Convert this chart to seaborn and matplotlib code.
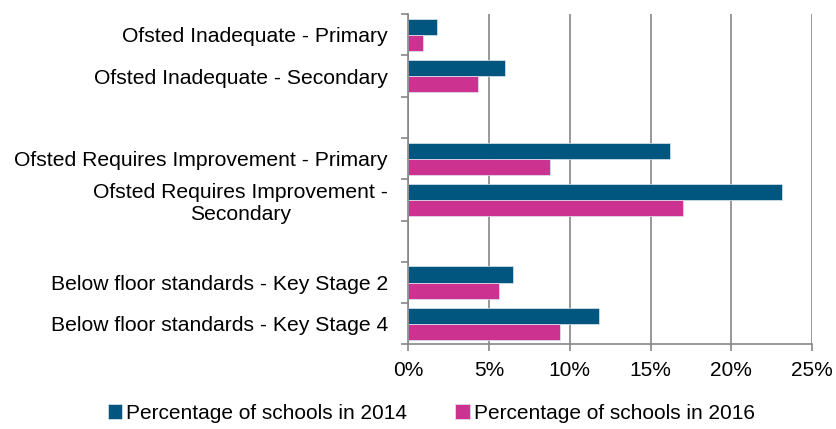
import pandas as pd
import matplotlib
matplotlib.use("Agg")
import matplotlib.pyplot as plt
from matplotlib.ticker import MultipleLocator, FixedLocator
import seaborn as sns

# chart data (blank entries are the spacer slots between groups)
categories = ["Ofsted Inadequate - Primary", "Ofsted Inadequate - Secondary", "",
              "Ofsted Requires Improvement - Primary",
              "Ofsted Requires Improvement -\nSecondary", " ",
              "Below floor standards - Key Stage 2", "Below floor standards - Key Stage 4"]
pct_2014 = [1.8, 6.0, None, 16.2, 23.1, None, 6.5, 11.8]
pct_2016 = [0.9, 4.3, None, 8.8, 17.0, None, 5.6, 9.4]
series = ["Percentage of schools in 2014", "Percentage of schools in 2016"]
colors = ["#00567F", "#CC3391"]

rows = []
for cat, a, b in zip(categories, pct_2014, pct_2016):
    if a is not None:
        rows.append((cat, series[0], a))
        rows.append((cat, series[1], b))
df = pd.DataFrame(rows, columns=["Category", "Series", "Value"])

sns.set_style("white")
plt.rcParams["font.family"] = ["Liberation Sans", "DejaVu Sans"]
plt.rcParams["text.color"] = "black"
plt.rcParams["xtick.labelcolor"] = "black"
plt.rcParams["ytick.labelcolor"] = "black"

fig, ax = plt.subplots(figsize=(8.36, 4.29), dpi=100)
fig.subplots_adjust(left=0.488, right=0.9716, top=0.967, bottom=0.197)

sns.barplot(data=df, y="Category", x="Value", hue="Series", order=categories,
            hue_order=series, palette=colors, saturation=1, orient="h", width=0.78,
            edgecolor="#DDE8EE", linewidth=0.5, ax=ax, legend=True)

ax.set_xlim(0, 25)
ax.set_ylim(len(categories) - 0.5, -0.5)
ax.xaxis.set_major_locator(MultipleLocator(5))
ax.xaxis.set_major_formatter(lambda v, p: f"{v:.0f}%")
ax.grid(axis="x", color="#868686", linewidth=1.2)
ax.set_axisbelow(True)
ax.set_xlabel("")
ax.set_ylabel("")

grey = "#868686"
for side in ["top", "right"]:
    ax.spines[side].set_visible(False)
for side in ["left", "bottom"]:
    ax.spines[side].set_color(grey)
    ax.spines[side].set_linewidth(1.2)

ax.set_yticks(range(len(categories)))
ax.set_yticklabels(categories, multialignment="center")
ax.yaxis.set_minor_locator(FixedLocator([i - 0.5 for i in range(len(categories) + 1)]))
ax.tick_params(axis="y", which="major", length=0, pad=14.5, labelsize=15.2, labelcolor="black")
ax.tick_params(axis="y", which="minor", left=True, length=5, width=1.2, color=grey)
ax.tick_params(axis="x", which="major", bottom=True, length=5, width=1.2, color=grey,
               pad=7, labelsize=15, labelcolor="black")

handles, labels = ax.get_legend_handles_labels()
ax.get_legend().remove()
fig.legend(handles, labels, loc="center", bbox_to_anchor=(0.516, 0.037), ncol=2,
           frameon=False, fontsize=15, handlelength=0.7, handleheight=0.7,
           handletextpad=0.2, columnspacing=2.3, labelcolor="black")

fig.savefig("out.png", dpi=100)
